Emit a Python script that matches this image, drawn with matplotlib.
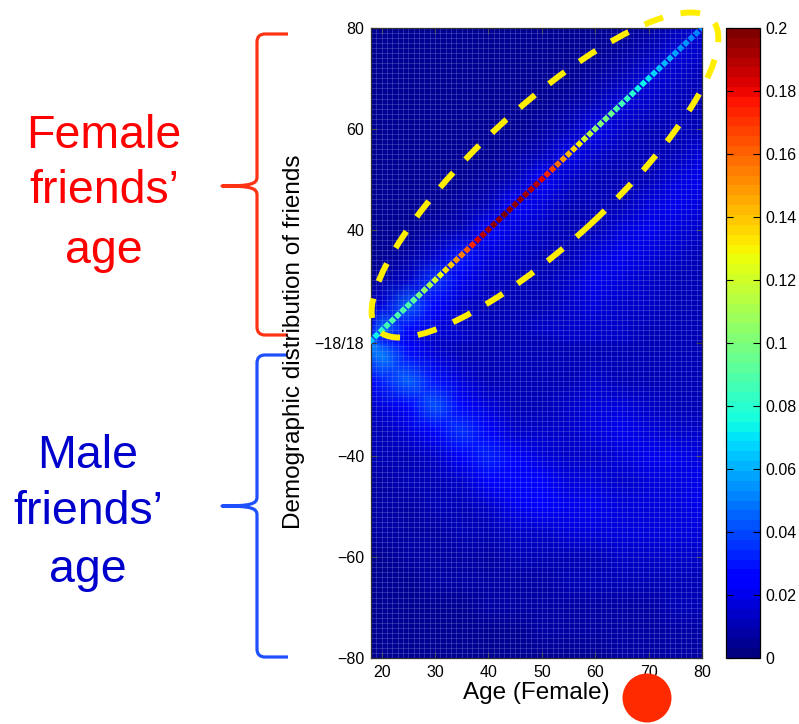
import numpy as np
import matplotlib
matplotlib.use("Agg")
import matplotlib.pyplot as plt
from matplotlib.patches import Ellipse, Circle, PathPatch
from matplotlib.path import Path
from matplotlib.colors import Normalize

plt.rcParams['font.family'] = ['Liberation Sans', 'DejaVu Sans']

# ---------------------------------------------------------------- data
ages = list(range(18, 81))

# share of female friends with exactly the same age as the (female) user
same_age_share = [
    0.065, 0.072, 0.082, 0.085, 0.090, 0.090, 0.088, 0.088, 0.092, 0.097,   # 18-27
    0.105, 0.112, 0.120, 0.125, 0.132, 0.140, 0.147, 0.155, 0.162, 0.172,   # 28-37
    0.182, 0.190, 0.193, 0.195, 0.196, 0.197, 0.196, 0.195, 0.194, 0.192,   # 38-47
    0.190, 0.188, 0.183, 0.175, 0.166, 0.157, 0.150, 0.142, 0.136, 0.130,   # 48-57
    0.120, 0.113, 0.106, 0.100, 0.097, 0.094, 0.090, 0.086, 0.083, 0.079,   # 58-67
    0.075, 0.072, 0.070, 0.068, 0.065, 0.062, 0.060, 0.058, 0.056, 0.055,   # 68-77
    0.053, 0.051, 0.050,                                                    # 78-80
]

# coarse age grid for the smooth background distribution
grid_ages = [18, 20, 25, 30, 35, 40, 45, 50, 55, 60, 65, 70, 75, 80]

# female friends: rows = friend age 80 ... 18, columns = user age (grid_ages)
female_share = [
    [.004, .004, .004, .004, .004, .004, .004, .004, .004, .004, .005, .007, .011, .018],
    [.004, .004, .004, .004, .004, .004, .004, .004, .004, .005, .007, .011, .018, .015],
    [.004, .004, .004, .004, .004, .004, .004, .004, .005, .007, .011, .018, .015, .012],
    [.004, .004, .004, .004, .004, .004, .004, .005, .007, .011, .018, .015, .012, .011],
    [.004, .004, .004, .004, .004, .004, .005, .007, .011, .020, .015, .012, .011, .012],
    [.004, .004, .004, .004, .004, .005, .007, .011, .020, .015, .012, .011, .012, .016],
    [.004, .004, .004, .004, .005, .007, .011, .022, .015, .012, .011, .012, .016, .021],
    [.004, .004, .004, .005, .007, .011, .024, .016, .012, .011, .012, .016, .020, .018],
    [.004, .004, .005, .007, .012, .027, .016, .013, .011, .012, .016, .020, .018, .014],
    [.005, .005, .008, .013, .030, .017, .013, .011, .012, .016, .020, .018, .014, .012],
    [.006, .008, .014, .036, .019, .014, .011, .012, .015, .019, .017, .014, .012, .011],
    [.012, .016, .044, .022, .015, .012, .011, .012, .015, .017, .015, .013, .011, .010],
    [.030, .048, .024, .016, .013, .012, .012, .013, .014, .015, .013, .012, .011, .010],
    [.048, .030, .020, .015, .013, .012, .012, .012, .013, .014, .013, .012, .011, .010],
]

# male friends: rows = friend age 18 ... 80, columns = user age (grid_ages)
male_share = [
    [.054, .042, .022, .014, .012, .011, .010, .010, .010, .010, .010, .010, .010, .010],
    [.044, .050, .030, .016, .012, .011, .010, .010, .010, .011, .010, .010, .010, .010],
    [.022, .032, .046, .030, .016, .012, .011, .011, .012, .013, .012, .011, .010, .010],
    [.014, .016, .028, .042, .028, .016, .012, .012, .014, .018, .017, .013, .012, .011],
    [.011, .012, .016, .026, .037, .026, .015, .013, .014, .017, .020, .016, .014, .013],
    [.010, .010, .012, .015, .024, .032, .024, .016, .015, .015, .017, .019, .019, .017],
    [.009, .009, .010, .012, .015, .022, .028, .022, .018, .016, .015, .016, .018, .020],
    [.008, .008, .009, .010, .012, .014, .019, .023, .021, .019, .018, .017, .018, .020],
    [.007, .007, .008, .009, .010, .011, .013, .015, .016, .016, .016, .016, .017, .018],
    [.006, .006, .007, .008, .008, .009, .010, .011, .012, .012, .013, .013, .014, .015],
    [.006, .006, .006, .007, .007, .008, .008, .009, .010, .010, .011, .011, .012, .012],
    [.005, .005, .006, .006, .006, .007, .007, .008, .008, .009, .009, .009, .010, .010],
    [.005, .005, .005, .005, .006, .006, .006, .007, .007, .007, .008, .008, .008, .009],
    [.005, .005, .005, .005, .005, .005, .006, .006, .006, .006, .007, .007, .007, .008],
]

x_ticks = [20, 30, 40, 50, 60, 70, 80]
y_tick_female = [80, 60, 40]
y_tick_male = [40, 60, 80]
cbar_ticks = [0, 0.02, 0.04, 0.06, 0.08, 0.1, 0.12, 0.14, 0.16, 0.18, 0.2]


# ---------------------------------------------------------------- helpers
def female_pos(a):
    return a - 17.5


def male_pos(a):
    return -(a - 17.5)


W, H, DPI = 799, 724, 100


def px(x, y):
    """pixel position (origin top-left) -> figure inches"""
    return (x / DPI, (H - y) / DPI)


# ---------------------------------------------------------------- figure
fig = plt.figure(figsize=(W / DPI, H / DPI), dpi=DPI)
ax = fig.add_axes([371 / W, 1 - 658 / H, 331 / W, 630 / H])
cax = fig.add_axes([726 / W, 1 - 658 / H, 34 / W, 630 / H])

cmap = plt.get_cmap('jet', 64)
norm = Normalize(0, 0.2)

# background distribution on the coarse grid (rows ordered bottom -> top)
male_arr = np.array(male_share)[::-1]          # male 80 ... 18
female_arr = np.array(female_share)[::-1]      # female 18 ... 80
Z = np.vstack([male_arr, female_arr])
yv = [male_pos(a) for a in grid_ages[::-1]] + [female_pos(a) for a in grid_ages]
X, Y = np.meshgrid(grid_ages, yv)
mesh = ax.pcolormesh(X, Y, Z, shading='gouraud', cmap=cmap, norm=norm, zorder=1)

# cell mesh lines
row_pos = [female_pos(a) for a in ages] + [male_pos(a) for a in ages]
ax.vlines(ages, -62.5, 62.5, colors='#9aa6ee', linewidth=0.6, alpha=0.3, zorder=2)
ax.hlines(row_pos, 18, 80, colors='#9aa6ee', linewidth=0.6, alpha=0.3, zorder=2)

# same-age friends
ax.scatter(ages, [female_pos(a) for a in ages], c=same_age_share, cmap=cmap,
           norm=norm, marker='D', s=16, linewidths=0, zorder=3)

ax.set_xlim(18, 80)
ax.set_ylim(-62.5, 62.5)
ax.set_xticks(x_ticks)
ax.set_xticklabels([str(v) for v in x_ticks])
yt = [female_pos(a) for a in y_tick_female] + [0] + [male_pos(a) for a in y_tick_male]
ytl = [str(a) for a in y_tick_female] + ['\u221218/18'] + ['\u2212%d' % a for a in y_tick_male]
ax.set_yticks(yt)
ax.set_yticklabels(ytl)
ax.tick_params(direction='in', length=4, width=0.8, color='#333333',
               top=True, right=True, labelsize=11.5, pad=5)
for s in ax.spines.values():
    s.set_linewidth(0.9)
    s.set_color('#333333')

fig.text(*px(536, 693), 'Age (Female)', transform=fig.dpi_scale_trans,
         ha='center', va='center', fontsize=17.5)
fig.text(*px(294, 342), 'Demographic distribution of friends', transform=fig.dpi_scale_trans,
         ha='center', va='center', rotation=90, fontsize=17.5)

# colorbar
cb = fig.colorbar(mesh, cax=cax, ticks=cbar_ticks)
cb.ax.set_yticklabels(['0' if t == 0 else ('%g' % t) for t in cbar_ticks])
cb.ax.tick_params(direction='in', length=5, width=0.8, left=True, right=True,
                  labelsize=11.5, pad=4)
cb.outline.set_linewidth(0.9)


# ---------------------------------------------------------------- annotations
def brace(y_top, y_tip, y_bot, color):
    xe, xv, xt, r = 288, 257, 222, 8
    pts = [px(xe, y_top), px(xv + r, y_top),
           px(xv, y_top), px(xv, y_top + r),
           px(xv, y_tip - 9),
           px(xv, y_tip - 2), px(xv - 6, y_tip), px(xt, y_tip),
           px(xv - 6, y_tip), px(xv, y_tip + 2), px(xv, y_tip + 9),
           px(xv, y_bot - r),
           px(xv, y_bot), px(xv + r, y_bot),
           px(xe, y_bot)]
    codes = [Path.MOVETO, Path.LINETO,
             Path.CURVE3, Path.CURVE3,
             Path.LINETO,
             Path.CURVE4, Path.CURVE4, Path.CURVE4,
             Path.CURVE4, Path.CURVE4, Path.CURVE4,
             Path.LINETO,
             Path.CURVE3, Path.CURVE3,
             Path.LINETO]
    fig.add_artist(PathPatch(Path(pts, codes), transform=fig.dpi_scale_trans,
                             fill=False, edgecolor=color, linewidth=2.3,
                             capstyle='butt', joinstyle='round'))


brace(34, 186, 335, '#FF3314')
brace(355, 506, 657, '#1F50FF')

for txt, yb in [('Female', 148), ('friends\u2019', 203), ('age', 263)]:
    fig.text(*px(104, yb), txt, transform=fig.dpi_scale_trans, ha='center',
             va='baseline', fontsize=33.5, color='#FF0000')
for txt, yb in [('Male', 468), ('friends\u2019', 524), ('age', 582)]:
    fig.text(*px(88, yb), txt, transform=fig.dpi_scale_trans, ha='center',
             va='baseline', fontsize=33.5, color='#0000CC')

fig.add_artist(Ellipse(px(545, 175), width=4.56, height=1.34, angle=42.8,
                       transform=fig.dpi_scale_trans, fill=False,
                       edgecolor='#FFEE00', linewidth=4.3,
                       linestyle=(0, (3.3, 3.0)), capstyle='butt'))

fig.add_artist(Circle(px(647, 698), 0.245, transform=fig.dpi_scale_trans,
                      facecolor='#FF2A00', edgecolor='none'))

fig.savefig('out.png', dpi=DPI)
